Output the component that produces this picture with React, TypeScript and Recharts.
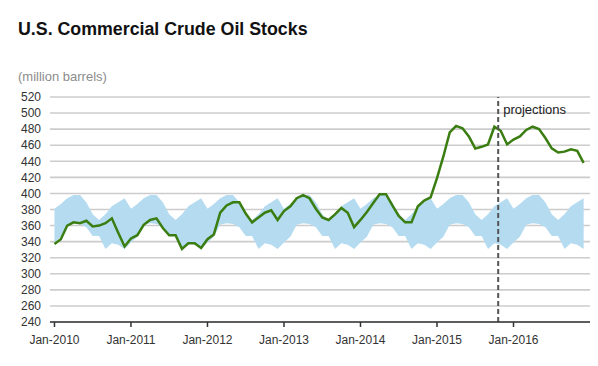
import React from "react";
import { ComposedChart, Line, Area, XAxis, YAxis, CartesianGrid, ReferenceLine } from "recharts";

// monthly, Jan-2010 .. Dec-2016 (million barrels)
const stocks = [
    337, 343, 360, 364, 363, 366, 359, 360, 363, 369, 351, 334,
    344, 348, 361, 367, 369, 357, 348, 348, 331, 338, 338, 332,
    343, 349, 376, 385, 389, 389, 375, 364, 370, 376, 379, 367,
    378, 384, 394, 398, 394, 381, 370, 367, 374, 382, 376, 358,
    367, 377, 388, 399, 399, 385, 372, 364, 364, 384, 391, 395,
    419, 446, 476, 484, 481, 471, 456, 458, 461, 483, 478, 461,
    467, 471, 479, 483, 480, 469, 456, 451, 452, 455, 453, 438,
];

// 5-year range band, upper edge
const rangeHigh = [
    381, 387, 394, 398, 398, 389, 374, 367, 374, 384, 389, 394,
    381, 387, 394, 398, 398, 389, 374, 367, 374, 384, 389, 394,
    381, 387, 394, 398, 398, 389, 374, 367, 374, 384, 389, 394,
    381, 387, 394, 398, 398, 389, 374, 367, 374, 384, 389, 394,
    381, 387, 394, 398, 398, 389, 374, 367, 374, 384, 389, 394,
    381, 387, 394, 398, 398, 389, 374, 367, 374, 384, 389, 394,
    381, 387, 394, 398, 398, 389, 374, 367, 374, 384, 389, 394,
];

// 5-year range band, lower edge
const rangeLow = [
    339, 346, 361, 363, 362, 358, 347, 347, 331, 338, 336, 331,
    339, 346, 361, 363, 362, 358, 347, 347, 331, 338, 336, 331,
    339, 346, 361, 363, 362, 358, 347, 347, 331, 338, 336, 331,
    339, 346, 361, 363, 362, 358, 347, 347, 331, 338, 336, 331,
    339, 346, 361, 363, 362, 358, 347, 347, 331, 338, 336, 331,
    339, 346, 361, 363, 362, 358, 347, 347, 331, 338, 336, 331,
    339, 346, 361, 363, 362, 358, 347, 347, 331, 338, 336, 331,
];

const xTicks = [0, 12, 24, 36, 48, 60, 72];
const xTickLabels = ["Jan-2010", "Jan-2011", "Jan-2012", "Jan-2013", "Jan-2014", "Jan-2015", "Jan-2016"];
const yTicks = [240, 260, 280, 300, 320, 340, 360, 380, 400, 420, 440, 460, 480, 500, 520];
const projectionStart = 69.6;

const FONT = "'Liberation Sans', Arial, Helvetica, sans-serif";

export default function App() {
    const data = stocks.map((v, i) => ({ idx: i, stock: v, range: [rangeLow[i], rangeHigh[i]] }));

    return (
        <div style={{ position: "absolute", left: 0, top: 0, width: 598, height: 366, background: "#fff", fontFamily: FONT }}>
            <div style={{ position: "absolute", left: 18, top: 19, fontSize: 17.8, fontWeight: "bold", color: "#111", lineHeight: "20px" }}>
                U.S. Commercial Crude Oil Stocks
            </div>
            <div style={{ position: "absolute", left: 18, top: 69, fontSize: 13, color: "#8c8c8c", lineHeight: "15px" }}>
                (million barrels)
            </div>
            <ComposedChart width={598} height={366} data={data} margin={{ top: 97, right: 8, left: 0, bottom: 14 }}>
                <CartesianGrid vertical={false} stroke="#cccccc" strokeWidth={1.6} />
                <XAxis
                    dataKey="idx"
                    type="number"
                    domain={[-0.7, 84]}
                    ticks={xTicks}
                    tickFormatter={(v: number) => xTickLabels[xTicks.indexOf(v)] ?? ""}
                    height={30}
                    tickSize={5}
                    tickMargin={8}
                    stroke="#333"
                    strokeWidth={1.5}
                    tick={{ fill: "#333", fontSize: 12, fontFamily: FONT }}
                    allowDataOverflow
                />
                <YAxis
                    domain={[240, 520]}
                    ticks={yTicks}
                    width={50}
                    axisLine={false}
                    tickLine={false}
                    tickSize={6}
                    tickMargin={3}
                    interval={0}
                    tick={{ fill: "#333", fontSize: 12, fontFamily: FONT }}
                />
                <Area
                    dataKey="range"
                    type="linear"
                    stroke="none"
                    fill="#b5dbf1"
                    fillOpacity={1}
                    isAnimationActive={false}
                />
                <Line
                    dataKey="stock"
                    type="linear"
                    stroke="#3a7d10"
                    strokeWidth={2.5}
                    dot={false}
                    isAnimationActive={false}
                />
                <ReferenceLine
                    x={projectionStart}
                    stroke="#555"
                    strokeWidth={2}
                    strokeDasharray="5 3"
                    label={(props: any) => (
                        <text x={props.viewBox.x + 5} y={props.viewBox.y + 17} fill="#222" fontSize={13} fontFamily={FONT}>
                            projections
                        </text>
                    )}
                />
            </ComposedChart>
        </div>
    );
}
